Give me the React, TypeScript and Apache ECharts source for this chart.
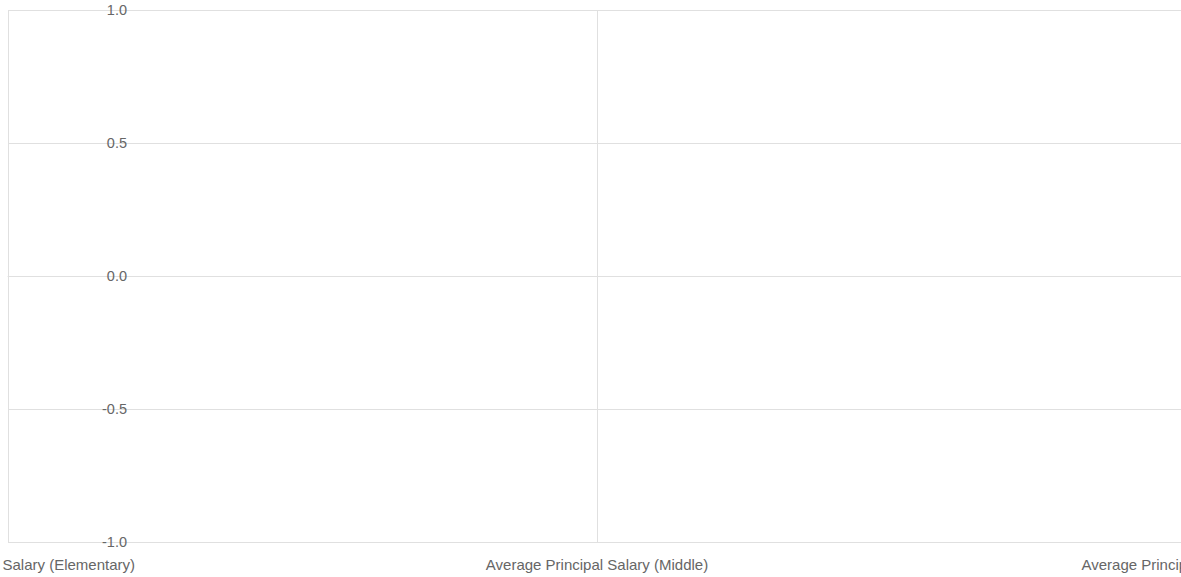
import React, { useEffect, useRef } from "react";
import * as echarts from "echarts";

const categories = [
  "Average Principal Salary (Elementary)",
  "Average Principal Salary (Middle)",
  "Average Principal Salary (High)",
];
const salaryValues: (number | null)[] = [null, null, null];
const yTicks = [-1.0, -0.5, 0.0, 0.5, 1.0];

export default function App() {
  const ref = useRef<HTMLDivElement>(null);
  useEffect(() => {
    if (!ref.current) return;
    const chart = echarts.init(ref.current, undefined, { renderer: "svg" });
    chart.setOption({
      animation: false,
      grid: {
        left: 8,
        right: -5,
        top: 10,
        bottom: 35,
        containLabel: false,
        outerBoundsMode: "none",
      },
      xAxis: {
        type: "category",
        data: categories,
        boundaryGap: false,
        axisLine: { show: true, lineStyle: { color: "#e0e0e0" } },
        axisTick: { show: false },
        axisLabel: {
          color: "#666",
          fontSize: 15,
          fontFamily: "Liberation Sans, Arial, sans-serif",
          margin: 15,
          interval: 0,
          hideOverlap: false,
        },
        splitLine: { show: true, lineStyle: { color: "#e0e0e0" } },
      },
      yAxis: {
        type: "value",
        min: yTicks[0],
        max: yTicks[yTicks.length - 1],
        interval: 0.5,
        axisLine: { show: false },
        axisTick: { show: false },
        axisLabel: {
          color: "#666",
          fontSize: 14.5,
          fontFamily: "Liberation Sans, Arial, sans-serif",
          margin: -119,
          formatter: (v: number) => v.toFixed(1),
        },
        splitLine: { show: true, lineStyle: { color: "#e0e0e0" } },
      },
      series: [
        {
          type: "line",
          data: salaryValues,
          showSymbol: false,
        },
      ],
    });
    return () => chart.dispose();
  }, []);
  return (
    <div
      ref={ref}
      style={{ position: "absolute", left: 0, top: 0, width: 1181, height: 577 }}
    />
  );
}
